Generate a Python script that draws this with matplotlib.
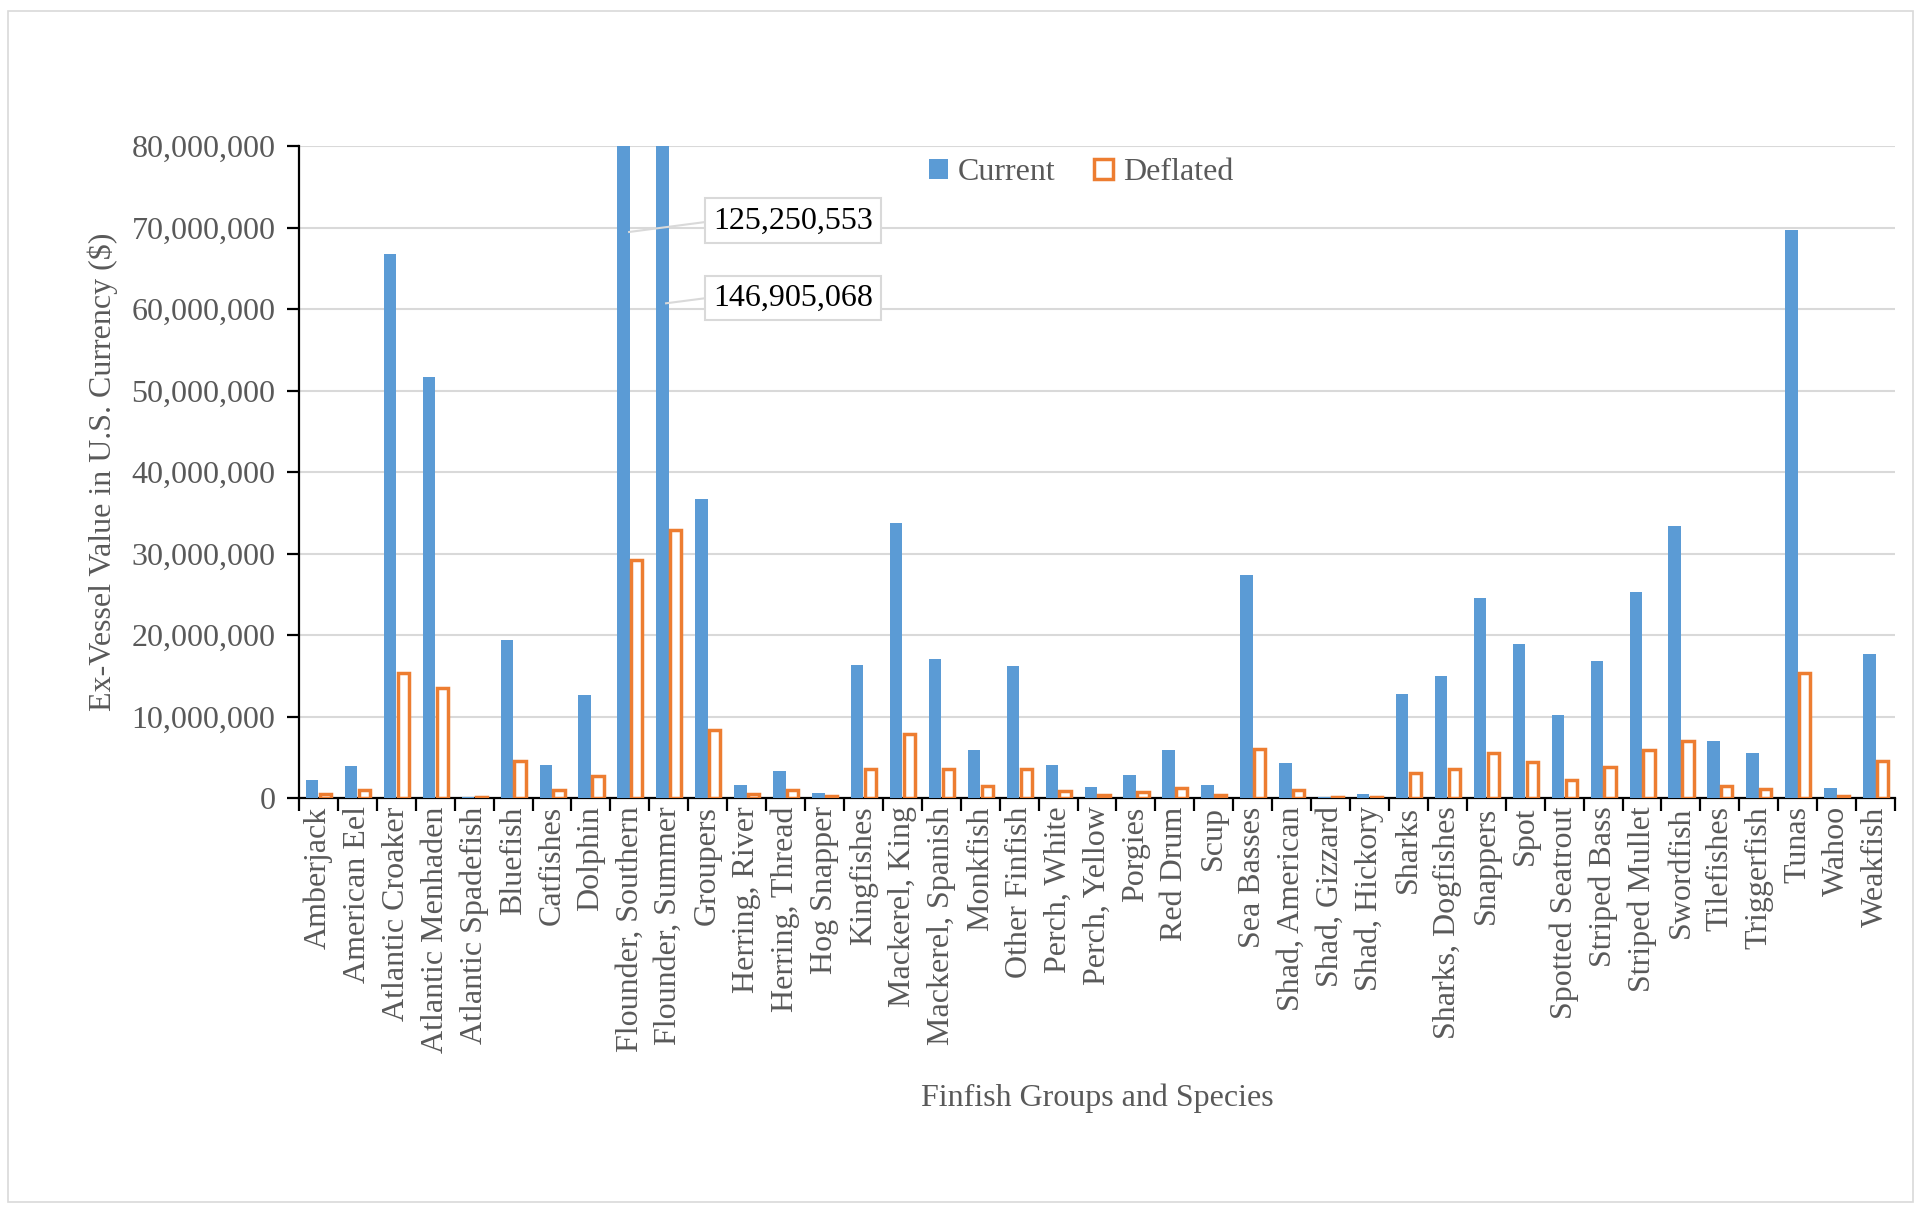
import numpy as np
import matplotlib
matplotlib.use("Agg")
import matplotlib.pyplot as plt
from matplotlib.patches import Rectangle
from matplotlib.ticker import FuncFormatter, FixedLocator

species = [
    "Amberjack", "American Eel", "Atlantic Croaker", "Atlantic Menhaden",
    "Atlantic Spadefish", "Bluefish", "Catfishes", "Dolphin",
    "Flounder, Southern", "Flounder, Summer", "Groupers", "Herring, River",
    "Herring, Thread", "Hog Snapper", "Kingfishes", "Mackerel, King",
    "Mackerel, Spanish", "Monkfish", "Other Finfish", "Perch, White",
    "Perch, Yellow", "Porgies", "Red Drum", "Scup", "Sea Basses",
    "Shad, American", "Shad, Gizzard", "Shad, Hickory", "Sharks",
    "Sharks, Dogfishes", "Snappers", "Spot", "Spotted Seatrout",
    "Striped Bass", "Striped Mullet", "Swordfish", "Tilefishes",
    "Triggerfish", "Tunas", "Wahoo", "Weakfish",
]

current = [
    2.2e6, 3.9e6, 66.7e6, 51.7e6, 0.15e6, 19.4e6, 4.05e6, 12.6e6,
    125250553, 146905068, 36.7e6, 1.55e6, 3.3e6, 0.65e6, 16.3e6, 33.7e6,
    17.0e6, 5.85e6, 16.2e6, 4.0e6, 1.3e6, 2.85e6, 5.85e6, 1.65e6,
    27.4e6, 4.25e6, 0.17e6, 0.45e6, 12.8e6, 15.0e6, 24.6e6, 18.9e6,
    10.2e6, 16.8e6, 25.3e6, 33.4e6, 7.0e6, 5.5e6, 69.7e6, 1.2e6, 17.7e6,
]

deflated = [
    0.5e6, 0.95e6, 15.3e6, 13.5e6, 0.15e6, 4.5e6, 0.95e6, 2.65e6,
    29.2e6, 32.9e6, 8.3e6, 0.5e6, 0.95e6, 0.2e6, 3.6e6, 7.8e6,
    3.5e6, 1.5e6, 3.55e6, 0.9e6, 0.35e6, 0.7e6, 1.25e6, 0.4e6,
    6.0e6, 0.95e6, 0.12e6, 0.17e6, 3.1e6, 3.6e6, 5.5e6, 4.45e6,
    2.2e6, 3.75e6, 5.9e6, 7.05e6, 1.5e6, 1.15e6, 15.3e6, 0.25e6, 4.6e6,
]

yticks = [0, 10e6, 20e6, 30e6, 40e6, 50e6, 60e6, 70e6, 80e6]

BLUE = "#5B9BD5"
ORANGE = "#ED7D31"
GRAY = "#595959"
GRID = "#D9D9D9"

plt.rcParams["font.family"] = ["Liberation Serif", "DejaVu Serif"]

W, H = 1919, 1206
fig = plt.figure(figsize=(W / 100, H / 100), dpi=100)
ax = fig.add_axes([299 / W, 1 - 798 / H, (1895 - 299) / W, (798 - 146) / H])

x = np.arange(len(species))
bw = 0.32
ax.bar(x - bw / 2, current, width=bw, color=BLUE, label="Current", zorder=3)
ax.bar(x + bw / 2 + 0.02, deflated, width=bw * 0.9, facecolor="white", edgecolor=ORANGE,
       linewidth=2.5, label="Deflated", zorder=3)

ax.set_xlim(-0.5, len(species) - 0.5)
ax.set_ylim(0, 80e6)
ax.set_yticks(yticks)
ax.yaxis.set_major_formatter(FuncFormatter(lambda v, p: f"{int(v):,}"))
ax.grid(axis="y", color=GRID, linewidth=1.5, zorder=0)
ax.set_axisbelow(True)

ax.set_xticks(x)
ax.set_xticklabels(species, rotation=90, fontsize=23, color=GRAY)
ax.xaxis.set_minor_locator(FixedLocator(np.arange(-0.5, len(species), 1.0)))
ax.tick_params(axis="x", which="major", length=0, pad=6)
ax.tick_params(axis="x", which="minor", length=9, width=1.6, color="black")
ax.tick_params(axis="y", length=9, width=1.6, labelsize=23, labelcolor=GRAY, pad=8)

for s in ["top", "right"]:
    ax.spines[s].set_visible(False)
ax.spines["left"].set_linewidth(1.6)
ax.spines["bottom"].set_linewidth(1.6)

ax.set_ylabel("Ex-Vessel Value in U.S. Currency ($)", fontsize=23, color=GRAY, labelpad=10)
ax.set_xlabel("Finfish Groups and Species", fontsize=23, color=GRAY, labelpad=22)

leg = ax.legend(loc="upper center", bbox_to_anchor=(0.49, 1.025), ncol=2, frameon=False,
                fontsize=23, handlelength=0.6, handleheight=0.6, handletextpad=0.3,
                columnspacing=1.2, labelcolor=GRAY)

# callouts for the clipped flounder bars
i_s = species.index("Flounder, Southern")
i_m = species.index("Flounder, Summer")
box = dict(boxstyle="square,pad=0.25", facecolor="white", edgecolor=GRID, linewidth=1.5)
ax.plot([i_s - 0.02, i_s + 1.98], [69.45e6, 70.7e6], color=GRID, linewidth=1.5, zorder=4)
ax.plot([i_m - 0.07, i_m + 0.98], [60.7e6, 61.35e6], color=GRID, linewidth=1.5, zorder=4)
ax.text(12.19, 70.8e6, f"{current[i_s]:,}", fontsize=23, color="black",
        va="center", ha="center", bbox=box, zorder=5)
ax.text(12.19, 61.35e6, f"{current[i_m]:,}", fontsize=23, color="black",
        va="center", ha="center", bbox=box, zorder=5)

fig.patches.append(Rectangle((8 / W, 4 / H), (W - 14) / W, (H - 15) / H,
                             transform=fig.transFigure, fill=False,
                             edgecolor=GRID, linewidth=1.2))

fig.savefig("out.png", dpi=100)
